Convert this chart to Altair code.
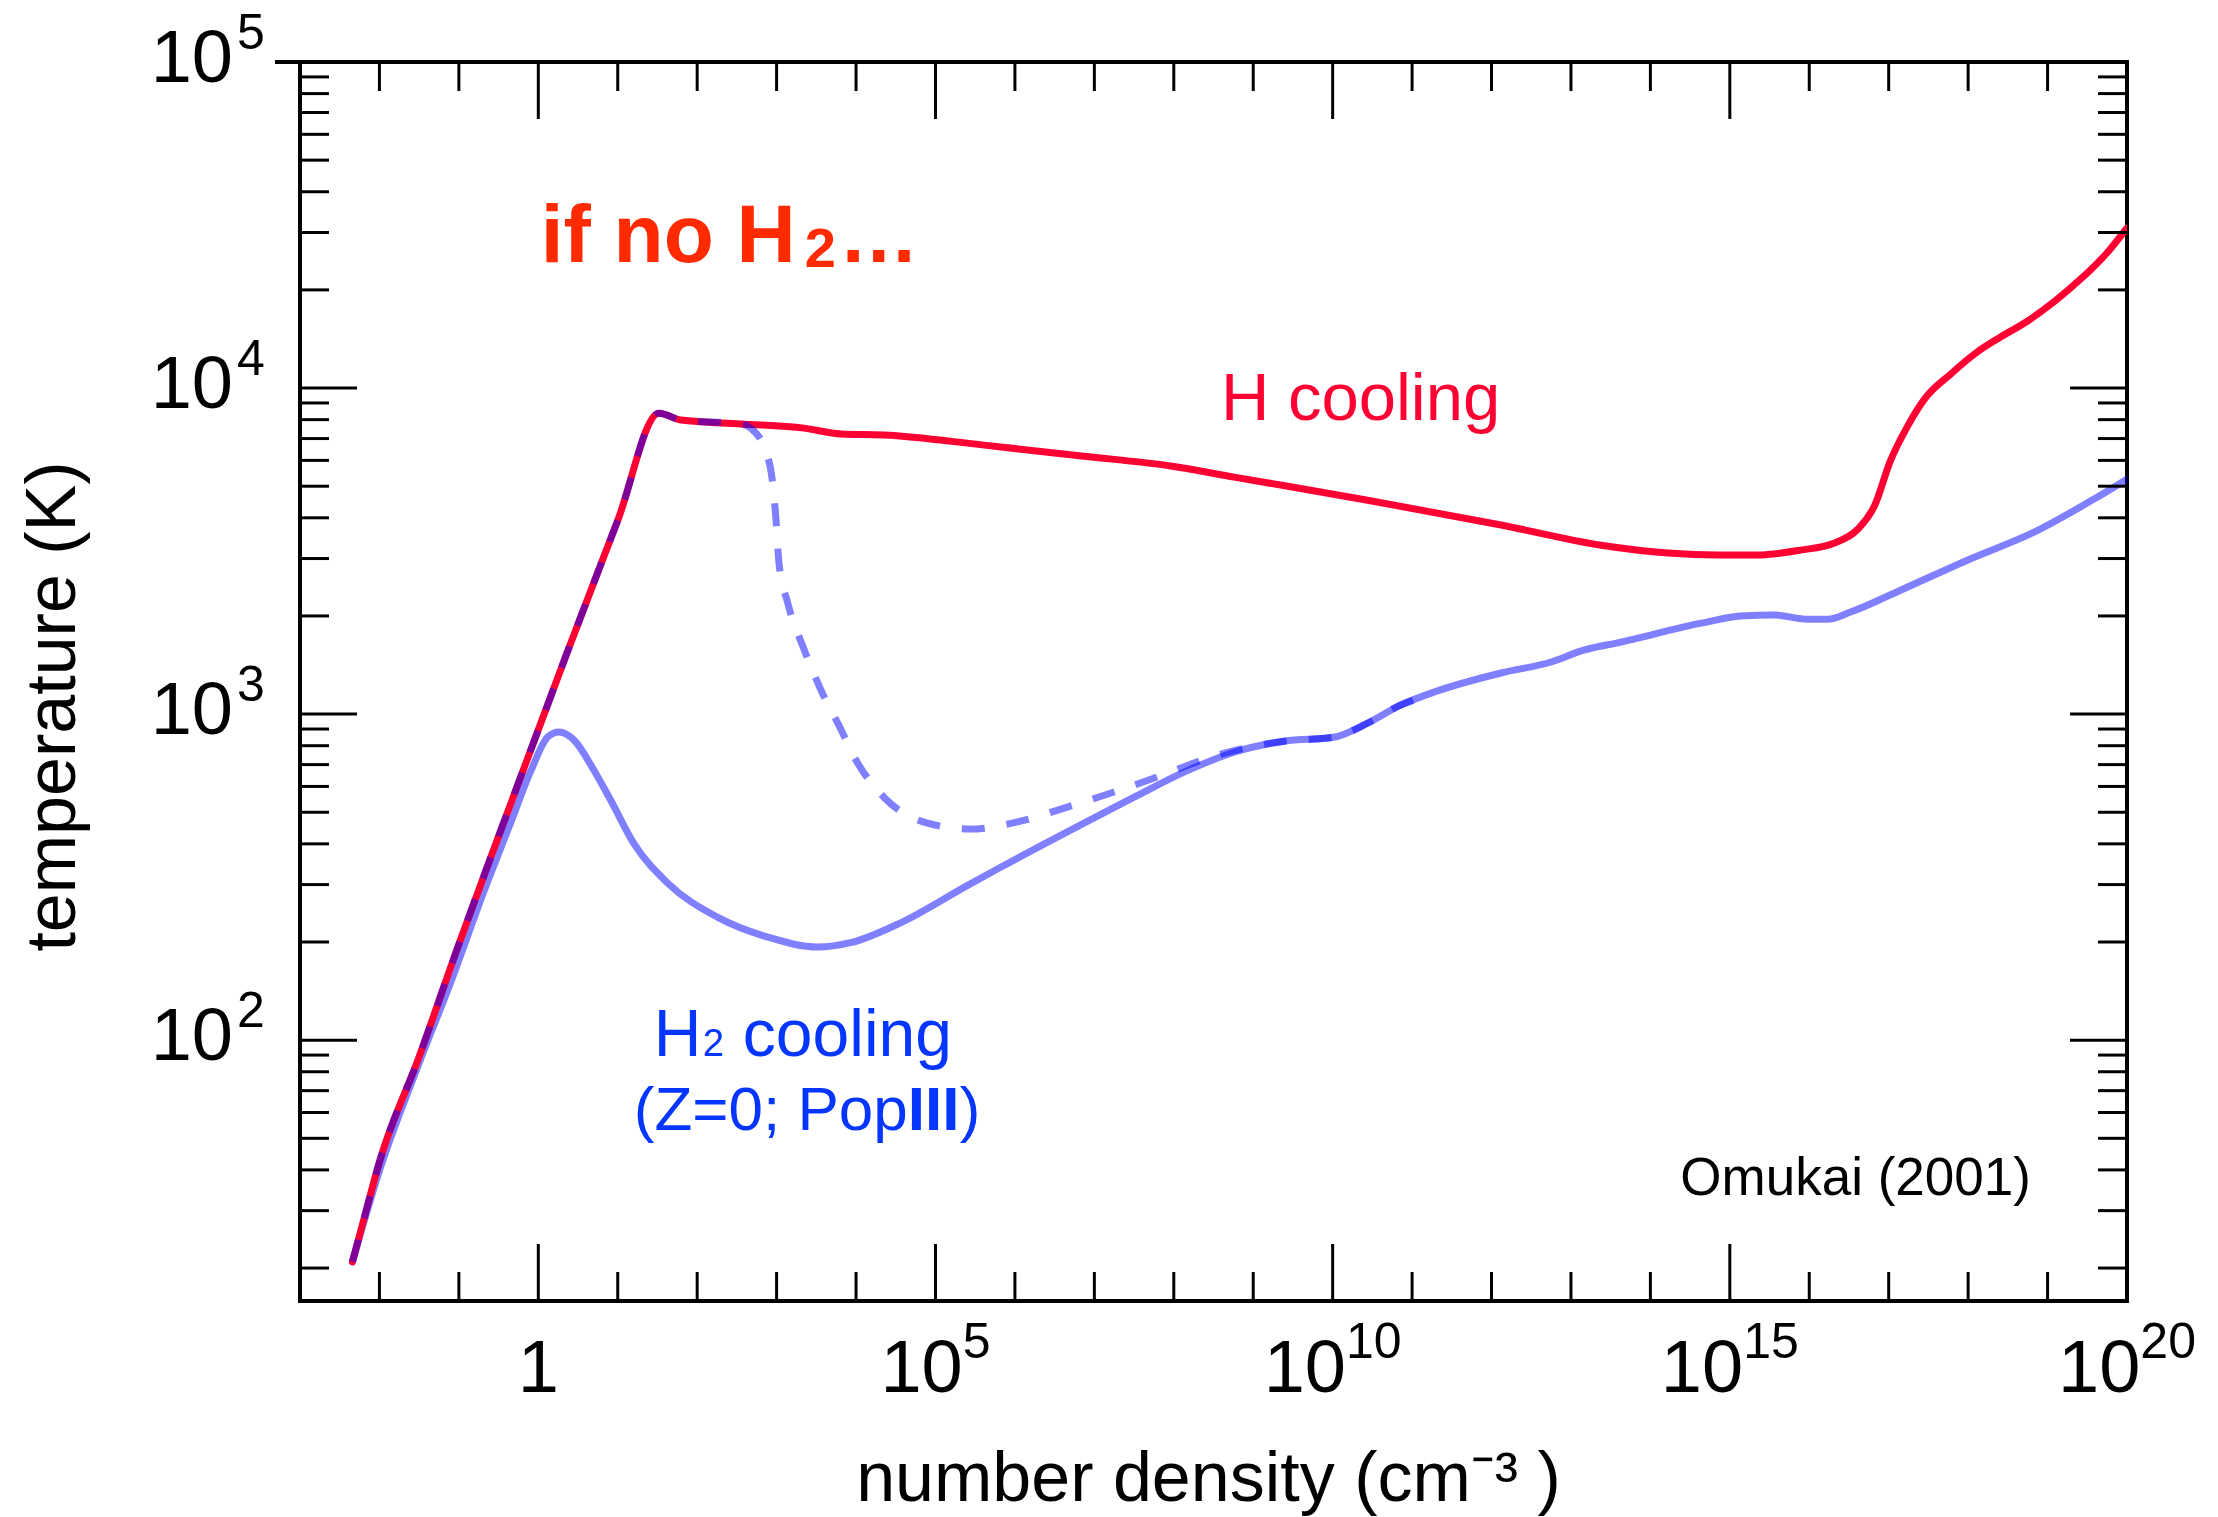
import altair as alt
import pandas as pd

# ---------------- data ----------------
# H cooling only (no H2): log10 n [cm^-3], T [K]
red_logn = [-2.34, -2.2, -2.0, -1.5, -1.0, -0.5, 0.0, 0.374, 1.0, 1.517, 1.795, 2.55,
            3.345, 3.81, 4.35, 5.61, 6.87, 7.96, 8.76, 10.44, 12.12, 13.38, 14.22,
            14.85, 15.35, 15.89, 16.31, 16.61, 16.82, 17.02, 17.24, 17.45, 17.78,
            18.11, 18.41, 18.74, 19.04, 19.33, 19.54, 19.75, 20.0]
red_T = [20.9, 28, 42.3, 89, 197, 422, 895, 1570, 3926, 8375, 7980, 7762,
         7534, 7228, 7178, 6683, 6180, 5768, 5333, 4529, 3802, 3296, 3119,
         3076, 3076, 3184, 3342, 3690, 4345, 5970, 7656, 9247, 11040,
         12880, 14350, 16000, 18070, 20700, 23010, 26000, 30970]

# H2 cooling (Z=0, PopIII), solid
h2_logn = [-2.34, -2.0, -1.5, -1.1, -0.68, -0.35, -0.09, 0.12, 0.26, 0.45, 0.70, 0.91,
           1.20, 1.63, 2.26, 2.89, 3.52, 3.93, 4.56, 5.41, 5.82, 6.87, 7.50, 8.13,
           8.76, 9.39, 10.01, 10.44, 10.86, 11.27, 12.12, 12.75, 13.16, 13.63, 14.64,
           15.14, 15.56, 15.98, 16.23, 16.52, 17.15, 17.99, 18.83, 19.63, 20.0]
h2_T = [20.9, 39.8, 85.1, 151, 288, 463, 673, 851, 881, 832, 673, 545,
        402, 303, 238, 207, 193, 199, 229, 299, 339, 463, 556, 664,
        764, 826, 849, 938, 1067, 1167, 1337, 1445, 1570, 1663, 1901,
        2000, 2014, 1954, 1954, 2056, 2399, 2965, 3614, 4634, 5248]

# dashed variant
dash_logn = [-2.34, -2.2, -2.0, -1.5, -1.0, -0.5, 0.0, 0.374, 1.0, 1.517, 1.795, 2.55,
             2.68, 2.89, 2.95, 2.99, 3.03, 3.14, 3.35, 3.60, 3.77, 4.02, 4.35, 4.90,
             5.44, 6.03, 6.62, 7.21, 7.88, 8.43, 8.76, 9.39, 10.01, 10.44, 10.86, 11.05]
dash_T = [20.9, 28, 42.3, 89, 197, 422, 895, 1570, 3926, 8375, 7980, 7762,
          7520, 6138, 5117, 4018, 2904, 2193, 1570, 1127, 938, 708, 556, 463,
          444, 467, 515, 573, 653, 733, 773, 826, 849, 938, 1067, 1109]

# ticks / tick labels
x_major_exp = [0, 5, 10, 15]
x_minor_exp = [e for e in range(-2, 20) if e % 5 != 0]
x_label_exp = [5, 10, 15, 20]
y_major_vals = [100, 1000, 10000]
y_minor_vals = [m * 10 ** k for k in range(1, 5) for m in range(2, 10)]
y_label_exp = [2, 3, 4, 5]

# annotations: (log n, log T, text)
ann_ifno = (0.03, 4.387, ["if no H", "2", "…"])
ann_hcool = (8.593, 3.902, "H cooling")
ann_h2_line1 = (1.454, 1.951, ["H", "2", "cooling"])
ann_h2_line2 = (1.202, 1.724, ["(Z=0; Pop", "III", ")"])
ann_ref = (18.79, 1.525, "Omukai (2001)")

# ---------------- chart ----------------
W, H = 1827, 1239
FONT = "Liberation Sans, Arial, Helvetica, sans-serif"
RED = "#FF0033"
BLUE = "#0000FF"
TXT_BLUE = "#0536FF"
LW = 7

xscale = alt.Scale(type="log", domain=[1e-3, 1e20], nice=False)
yscale = alt.Scale(type="log", domain=[10 ** 1.2, 1e5], nice=False)
xaxis = alt.Axis(title="number density (cm⁻³ )", labels=False, ticks=False, domain=False,
                 grid=False, titleFont=FONT, titleFontSize=70, titleFontWeight="normal",
                 titleColor="black", titleX=908, titleY=199, titleAlign="center",
                 titleBaseline="alphabetic")
yaxis = alt.Axis(title="temperature (K)", labels=False, ticks=False, domain=False,
                 grid=False, titleFont=FONT, titleFontSize=70, titleFontWeight="normal",
                 titleColor="black", titleAngle=270, titleX=-226, titleY=644,
                 titleAlign="center", titleBaseline="alphabetic")


def X():
    return alt.X("n:Q", scale=xscale, axis=xaxis)


def Y():
    return alt.Y("T:Q", scale=yscale, axis=yaxis)


def curve_df(logn, T):
    return pd.DataFrame({"n": [10.0 ** e for e in logn], "T": T})


layers = []

# curves
layers.append(alt.Chart(curve_df(h2_logn, h2_T)).mark_line(
    color=BLUE, opacity=0.5, strokeWidth=LW, interpolate="monotone", clip=True,
    strokeCap="round").encode(x=X(), y=Y()))
layers.append(alt.Chart(curve_df(red_logn, red_T)).mark_line(
    color=RED, strokeWidth=LW, interpolate="monotone", clip=True,
    strokeCap="round").encode(x=X(), y=Y()))
layers.append(alt.Chart(curve_df(dash_logn, dash_T)).mark_line(
    color=BLUE, opacity=0.5, strokeWidth=LW, interpolate="monotone", clip=True,
    strokeDash=[23, 22]).encode(x=X(), y=Y()))

# ticks (inward, on all four sides)
xmin_df = pd.DataFrame({"n": [10.0 ** e for e in x_minor_exp]})
xmaj_df = pd.DataFrame({"n": [10.0 ** e for e in x_major_exp]})
ymin_df = pd.DataFrame({"T": y_minor_vals})
ymaj_df = pd.DataFrame({"T": y_major_vals})
for df, L in ((xmin_df, 29), (xmaj_df, 57)):
    layers.append(alt.Chart(df).mark_rule(color="black", strokeWidth=3).encode(
        x=X(), y=alt.value(H), y2=alt.value(H - L)))
    layers.append(alt.Chart(df).mark_rule(color="black", strokeWidth=3).encode(
        x=X(), y=alt.value(0), y2=alt.value(L)))
for df, L in ((ymin_df, 29), (ymaj_df, 57)):
    layers.append(alt.Chart(df).mark_rule(color="black", strokeWidth=3).encode(
        y=Y(), x=alt.value(0), x2=alt.value(L)))
    layers.append(alt.Chart(df).mark_rule(color="black", strokeWidth=3).encode(
        y=Y(), x=alt.value(W - L), x2=alt.value(W)))
# top axis line extends to the left at 10^5
layers.append(alt.Chart(pd.DataFrame({"T": [1e5]})).mark_rule(
    color="black", strokeWidth=4).encode(y=Y(), x=alt.value(-25), x2=alt.value(0)))

# x tick labels
BASE_FS, SUP_FS = 74, 50
base_w = 2 * 0.556 * BASE_FS
digit_w = 0.556 * SUP_FS
layers.append(alt.Chart(pd.DataFrame({"n": [1.0], "t": ["1"]})).mark_text(
    align="center", baseline="alphabetic", fontSize=BASE_FS, font=FONT, color="black"
).encode(x=X(), y=alt.value(H + 91), text="t:N"))
for nd in (1, 2):
    exps = [e for e in x_label_exp if len(str(e)) == nd]
    tw = base_w + nd * digit_w
    dx = base_w - tw / 2
    df = pd.DataFrame({"n": [10.0 ** e for e in exps], "sup": [str(e) for e in exps]})
    layers.append(alt.Chart(df).mark_text(
        align="right", baseline="alphabetic", dx=dx, fontSize=BASE_FS, font=FONT,
        color="black").encode(x=X(), y=alt.value(H + 91), text=alt.value("10")))
    layers.append(alt.Chart(df).mark_text(
        align="left", baseline="alphabetic", dx=dx, fontSize=SUP_FS, font=FONT,
        color="black").encode(x=X(), y=alt.value(H + 57), text="sup:N"))

# y tick labels
ylab_df = pd.DataFrame({"T": [10.0 ** e for e in y_label_exp],
                        "sup": [str(e) for e in y_label_exp]})
layers.append(alt.Chart(ylab_df).mark_text(
    align="right", baseline="alphabetic", dy=20, fontSize=BASE_FS, font=FONT,
    color="black").encode(y=Y(), x=alt.value(-67), text=alt.value("10")))
layers.append(alt.Chart(ylab_df).mark_text(
    align="left", baseline="alphabetic", dy=-13, fontSize=SUP_FS, font=FONT,
    color="black").encode(y=Y(), x=alt.value(-63), text="sup:N"))


def ann(logn, logT, text, size, color, weight="normal", dx=0, dy=0, align="left"):
    df = pd.DataFrame({"n": [10.0 ** logn], "T": [10.0 ** logT], "label": [text]})
    return alt.Chart(df).mark_text(
        align=align, baseline="alphabetic", dx=dx, dy=dy, fontSize=size, font=FONT,
        fontWeight=weight, color=color).encode(x=X(), y=Y(), text="label:N")


# "if no H2..."
ln, lt, parts = ann_ifno
layers.append(ann(ln, lt, parts[0], 82, "#FF2A00", "bold"))
layers.append(ann(ln, lt, parts[1], 56, "#FF2A00", "bold", dx=264, dy=5))
layers.append(ann(ln, lt, parts[2], 80, "#FF2A00", "bold", dx=298))
# "H cooling"
ln, lt, t = ann_hcool
layers.append(ann(ln, lt, t, 67, RED))
# "H2 cooling" / "(Z=0; PopIII)"
ln, lt, parts = ann_h2_line1
layers.append(ann(ln, lt, parts[0], 66, TXT_BLUE))
layers.append(ann(ln, lt, parts[1], 38, TXT_BLUE, dx=49))
layers.append(ann(ln, lt, parts[2], 66, TXT_BLUE, dx=89))
ln, lt, parts = ann_h2_line2
layers.append(ann(ln, lt, parts[0], 62, TXT_BLUE))
layers.append(ann(ln, lt, parts[1], 62, TXT_BLUE, "bold", dx=274))
layers.append(ann(ln, lt, parts[2], 62, TXT_BLUE, dx=326))
# reference
ln, lt, t = ann_ref
layers.append(ann(ln, lt, t, 53, "black", align="right"))

chart = alt.layer(*layers).properties(
    width=W, height=H,
    autosize=alt.AutoSizeParams(type="none"),
    padding={"left": 300, "top": 62, "right": 91, "bottom": 216},
).configure(background="white").configure_view(stroke="black", strokeWidth=4)

chart.save("out.html", embed_options={"renderer": "svg", "actions": False})
